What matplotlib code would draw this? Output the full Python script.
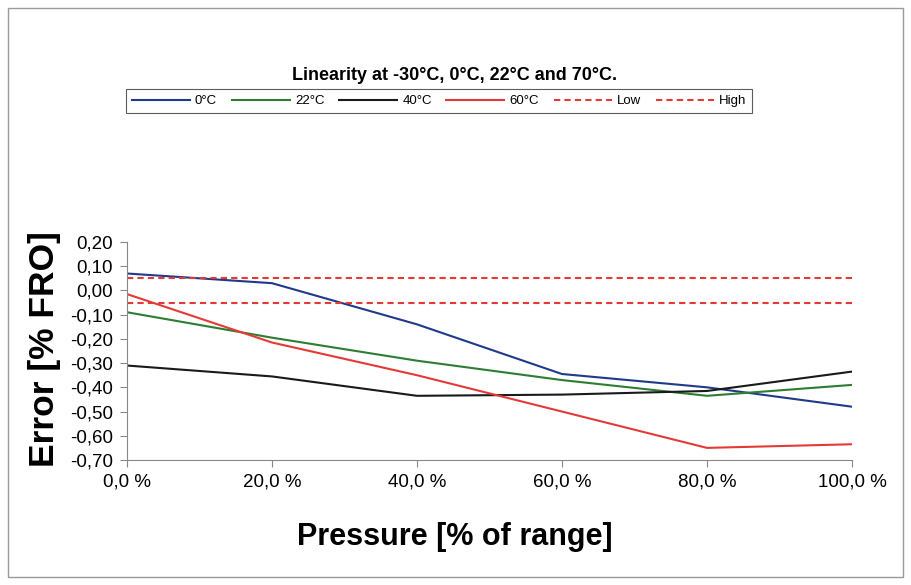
import matplotlib
matplotlib.use("Agg")
import matplotlib.pyplot as plt
from matplotlib.patches import Rectangle

plt.rcParams["font.family"] = ["Liberation Sans", "DejaVu Sans"]

# Data
pressure = [0, 20, 40, 60, 80, 100]
err_0c = [0.07, 0.03, -0.14, -0.345, -0.40, -0.48]
err_22c = [-0.09, -0.195, -0.29, -0.37, -0.435, -0.39]
err_40c = [-0.31, -0.355, -0.435, -0.43, -0.415, -0.335]
err_60c = [-0.015, -0.215, -0.35, -0.50, -0.65, -0.635]
low_limit = [0.05] * 6
high_limit = [-0.05] * 6

yticks = [0.2, 0.1, 0.0, -0.1, -0.2, -0.3, -0.4, -0.5, -0.6, -0.7]
xticks = [0, 20, 40, 60, 80, 100]

fig = plt.figure(figsize=(9.12, 5.85), dpi=100)
fig.patches.append(Rectangle((8 / 912, 8 / 585), 895 / 912, 569 / 585,
                             transform=fig.transFigure, fill=False,
                             edgecolor="#999999", linewidth=1.0))

ax = fig.add_axes([127 / 912, 1 - 460 / 585, 725 / 912, 218 / 585])

ax.plot(pressure, err_0c, color="#1f3a8a", lw=1.5, label="0°C")
ax.plot(pressure, err_22c, color="#2e7d32", lw=1.5, label="22°C")
ax.plot(pressure, err_40c, color="#1a1a1a", lw=1.5, label="40°C")
ax.plot(pressure, err_60c, color="#e53935", lw=1.5, label="60°C")
ax.plot(pressure, low_limit, color="#e53935", lw=1.5, ls=(0, (3, 2)), label="Low")
ax.plot(pressure, high_limit, color="#e53935", lw=1.5, ls=(0, (3, 2)), label="High")

ax.set_xlim(0, 100)
ax.set_ylim(-0.7, 0.2)
ax.set_xticks(xticks)
ax.set_xticklabels([f"{v:.1f} %".replace(".", ",") for v in xticks])
ax.set_yticks(yticks)
ax.set_yticklabels([f"{v:.2f}".replace(".", ",").replace("-0,00", "0,00") for v in yticks])
ax.tick_params(labelsize=13.5, length=5, color="#888888", direction="out")
ax.tick_params(axis="x", pad=5)
ax.tick_params(axis="y", pad=5)

for s in ["top", "right"]:
    ax.spines[s].set_visible(False)
for s in ["left", "bottom"]:
    ax.spines[s].set_color("#888888")

fig.text(455 / 912, 1 - 537 / 585, "Pressure [% of range]",
         ha="center", va="center", fontsize=22, fontweight="bold")
fig.text(45 / 912, 1 - 349 / 585, "Error [% FRO]", rotation=90,
         ha="center", va="center", fontsize=25.5, fontweight="bold")

fig.text(455 / 912, 1 - 75 / 585, "Linearity at -30°C, 0°C, 22°C and 70°C.",
         ha="center", va="center", fontsize=13, fontweight="bold")

leg = fig.legend(loc="center", bbox_to_anchor=(439 / 912, 1 - 101 / 585), ncol=6,
                 fontsize=9.5, frameon=True, fancybox=False, handlelength=4.4,
                 handletextpad=0.4, columnspacing=1.1, borderpad=0.45)
leg.get_frame().set_edgecolor("#333333")
leg.get_frame().set_linewidth(0.8)

fig.savefig("out.png", dpi=100)
